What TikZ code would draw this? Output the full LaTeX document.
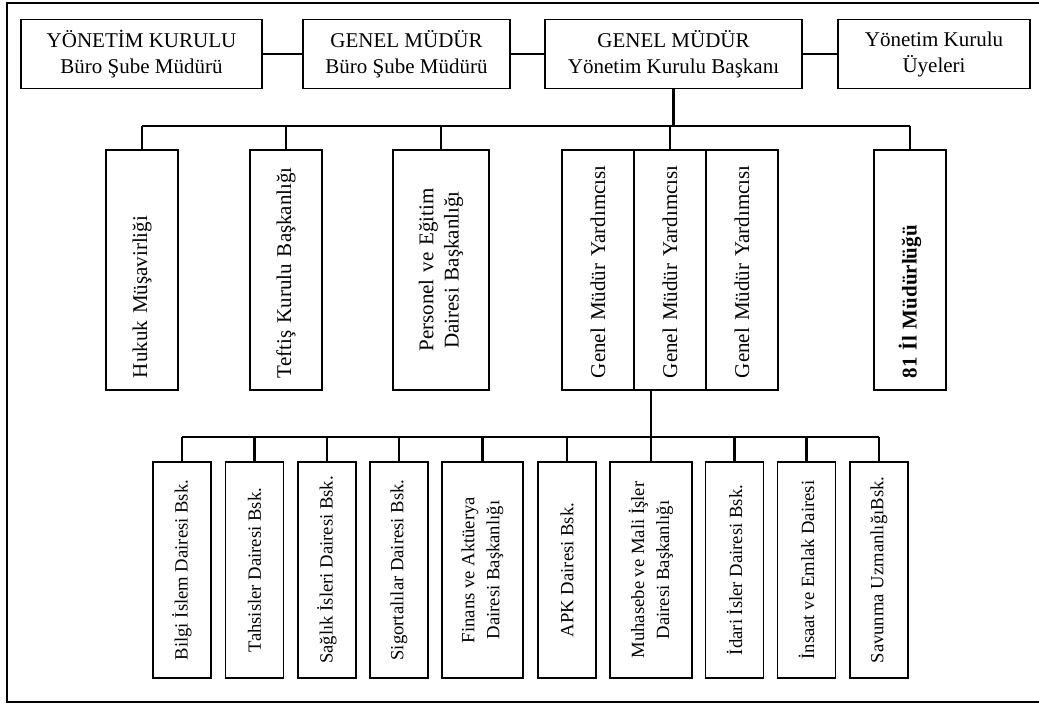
\documentclass[tikz,border=0pt]{standalone}
\usepackage{fontspec}
\setmainfont{Liberation Serif}
\usetikzlibrary{calc}

\begin{document}
\begin{tikzpicture}[
    x=0.75pt, y=-0.75pt,
    head/.style={draw, line width=1.3pt, align=center, minimum height=51.75pt, inner sep=2pt, font=\fontsize{15.75}{19.5}\selectfont},
    unit/.style={draw, line width=1.3pt, rotate=90, minimum height=54pt, inner xsep=9pt, text width=162pt, align=left, font=\fontsize{15.75}{19}\selectfont},
    dept/.style={draw, line width=1.3pt, rotate=90, minimum width=162pt, minimum height=43.5pt, inner sep=2pt, align=center, font=\fontsize{14}{18.75}\selectfont},
    link/.style={line width=1.8pt},
]
    \useasboundingbox (0,0) rectangle (1039,704);
    \draw[line width=1.8pt] (1039,3) -- (7,3) -- (7,702) -- (1039,702);

    % ust kademe
    \node[head, minimum width=180.75pt] (yk) at (141.5, 54) {YÖNETİM KURULU\\Büro Şube Müdürü};
    \node[head, minimum width=155.25pt] (gmb) at (406.5, 54) {GENEL MÜDÜR\\Büro Şube Müdürü};
    \node[head, minimum width=192.75pt] (gm) at (673.5, 54) {GENEL MÜDÜR\\Yönetim Kurulu Başkanı};
    \node[head, minimum width=144pt] (yku) at (934, 54) {Yönetim Kurulu\\Üyeleri};

    % orta kademe
    \node[unit] (hukuk) at (142, 270) {Hukuk Müşavirliği};
    \node[unit] (teftis) at (286, 270) {Teftiş Kurulu Başkanlığı};
    \node[unit, align=center, minimum height=72pt] (personel) at (441, 270) {Personel ve Eğitim\\Dairesi Başkanlığı};
    \node[unit] (gmy1) at (598, 270) {Genel Müdür Yardımcısı};
    \node[unit] (gmy2) at (670, 270) {Genel Müdür Yardımcısı};
    \node[unit] (gmy3) at (742, 270) {Genel Müdür Yardımcısı};
    \node[unit, font=\fontsize{15.75}{19}\selectfont\bfseries] (il) at (910, 270) {81 İl Müdürlüğü};

    % daire baskanliklari
    \node[dept] (bilgi) at (182, 570) {Bilgi İslem Dairesi Bsk.};
    \node[dept] (tahsis) at (254.5, 570) {Tahsisler Dairesi Bsk.};
    \node[dept] (saglik) at (327, 570) {Sağlık İsleri Dairesi Bsk.};
    \node[dept] (sigorta) at (399, 570) {Sigortalılar Dairesi Bsk.};
    \node[dept, minimum height=61pt] (finans) at (482.5, 570) {Finans ve Aktüerya\\Dairesi Başkanlığı};
    \node[dept] (apk) at (567, 570) {APK Dairesi Bsk.};
    \node[dept, minimum height=61.5pt] (muh) at (651, 570) {Muhasebe ve Mali İşler\\Dairesi Başkanlığı};
    \node[dept] (idari) at (734.5, 570) {İdari İsler Dairesi Bsk.};
    \node[dept] (insaat) at (806.5, 570) {İnsaat ve Emlak Dairesi};
    \node[dept] (savunma) at (879, 570) {Savunma UzmanlığıBsk.};

    \coordinate (bus1) at (0, 126);
    \coordinate (bus2) at (0, 437);

    \draw[link] (yk) -- (gmb);
    \draw[link] (gmb) -- (gm);
    \draw[link] (gm) -- (yku);
    \draw[link] (gm.south) -- (gm.south |- bus1);
    \draw[link] (hukuk.east |- bus1) -- (il.east |- bus1);
    \foreach \n in {hukuk,teftis,personel,gmy2,il}
        \draw[link] (\n.east) -- (\n.east |- bus1);

    \draw[link] (gmy2.west -| muh.east) -- (muh.east);
    \draw[link] (bilgi.east |- bus2) -- (savunma.east |- bus2);
    \foreach \n in {bilgi,tahsis,saglik,sigorta,finans,apk,idari,insaat,savunma}
        \draw[link] (\n.east) -- (\n.east |- bus2);
\end{tikzpicture}
\end{document}
